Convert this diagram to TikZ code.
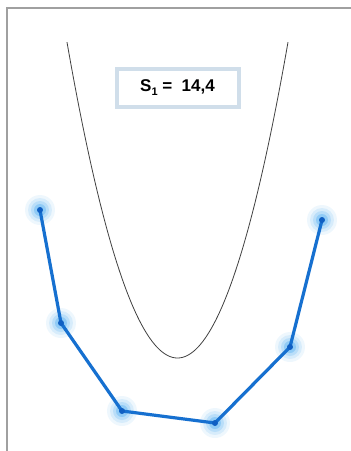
\documentclass[tikz,border=0pt]{standalone}
\usepackage{fontspec}
\setmainfont{Liberation Sans}
\definecolor{lineblue}{RGB}{22,112,208}
\definecolor{dotblue}{RGB}{15,95,195}
\definecolor{glowblue}{RGB}{50,160,240}
\definecolor{boxgrey}{RGB}{208,222,234}
\definecolor{framegrey}{RGB}{160,160,160}
\tikzset{
  polyline/.style={draw=lineblue, line width=3.2pt, line join=round, line cap=round},
  labelbox/.style={draw=boxgrey, line width=4pt, fill=white, minimum width=122pt, minimum height=38pt, inner sep=0pt, font=\fontsize{17}{19}\selectfont\bfseries},
}
\newcommand{\glowpt}[1]{%
  \fill[glowblue, opacity=0.08] (#1) circle (15pt);
  \fill[glowblue, opacity=0.12] (#1) circle (12pt);
  \fill[glowblue, opacity=0.18] (#1) circle (9pt);
  \fill[glowblue, opacity=0.30] (#1) circle (6pt);
}
\newcommand{\subone}{\raisebox{-4pt}{\fontsize{11}{11}\selectfont\bfseries 1}}
\begin{document}
\begin{tikzpicture}[x=1pt,y=-1pt]
\useasboundingbox (0,0) rectangle (351,451);
\fill[white] (0,0) rectangle (351,451);
% frame
\draw[framegrey, line width=1.2pt] (7,451) -- (7,8) -- (351,8);
% parabola
\draw[black!75, line width=0.8pt] plot[domain=67:288, samples=120, smooth] (\x, {358 - 0.02587*(\x-177.5)*(\x-177.5)});
% label
\node[labelbox] (lab) at (177.5,87.5) {S\subone\ = \ 14,4};
% points
\coordinate (p1) at (40,210);
\coordinate (p2) at (61,323);
\coordinate (p3) at (122,411);
\coordinate (p4) at (215,423);
\coordinate (p5) at (290,347);
\coordinate (p6) at (322,220);
\foreach \p in {p1,p2,p3,p4,p5,p6} {\glowpt{\p}}
\draw[polyline] (p1) -- (p2) -- (p3) -- (p4) -- (p5) -- (p6);
\foreach \p in {p1,p2,p3,p4,p5,p6} {\fill[dotblue] (\p) circle (3pt);}
\end{tikzpicture}
\end{document}
